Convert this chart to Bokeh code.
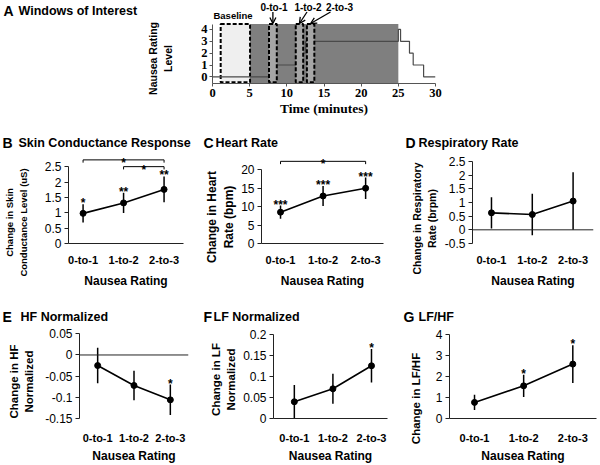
import math
from bokeh.plotting import figure
from bokeh.models import (Range1d, FixedTicker, Span, Arrow, OpenHead, ColumnDataSource,
                          LinearAxis)
from bokeh.layouts import column, row
from bokeh.embed import file_html
from bokeh.resources import INLINE
from bokeh.core.properties import value

# ---------------- data ----------------
categories = ["0-to-1", "1-to-2", "2-to-3"]

# Panel A: windows of interest
rating_time = [0, 8.1, 11.7, 12.5, 25.0, 25.3, 26.5, 27.0, 28.4, 30]
rating_level = [0, 1, 2, 3, 4, 3, 2, 1, 0, 0]
exposure_window = (5, 25)
baseline_window = (1.1, 5.05)
window_names = ["0-to-1", "1-to-2", "2-to-3"]
window_start = [7.6, 11.2, 12.7]
window_end = [8.65, 12.2, 13.7]
time_ticks = [0, 5, 10, 15, 20, 25, 30]
level_ticks = [0, 1, 2, 3, 4]

# Panel B: skin conductance response
scr_mean = [0.98, 1.32, 1.76]
scr_err = [0.30, 0.33, 0.42]
scr_stars = ["*", "**", "**"]
scr_pairs = [(0, 2, "*"), (1, 2, "*")]
scr_ticks = [0, 0.5, 1, 1.5, 2, 2.5]

# Panel C: heart rate
hr_mean = [8.5, 12.9, 15.0]
hr_err = [1.8, 2.7, 2.9]
hr_stars = ["***", "***", "***"]
hr_pairs = [(0, 2, "*")]
hr_ticks = [0, 5, 10, 15, 20]

# Panel D: respiratory rate
rr_mean = [0.62, 0.56, 1.05]
rr_err = [0.57, 0.76, 1.05]
rr_stars = ["", "", ""]
rr_ticks = [-0.5, 0, 0.5, 1, 1.5, 2, 2.5]

# Panel E: HF normalized
hf_mean = [-0.025, -0.072, -0.106]
hf_err = [0.042, 0.035, 0.036]
hf_stars = ["", "", "*"]
hf_ticks = [-0.15, -0.1, -0.05, 0, 0.05]

# Panel F: LF normalized
lf_mean = [0.040, 0.071, 0.126]
lf_err = [0.040, 0.036, 0.040]
lf_stars = ["", "", "*"]
lf_ticks = [0, 0.05, 0.1, 0.15, 0.2]

# Panel G: LF/HF
lfhf_mean = [0.77, 1.56, 2.60]
lfhf_err = [0.36, 0.53, 0.90]
lfhf_stars = ["", "*", "*"]
lfhf_ticks = [0, 1, 2, 3, 4]

# ---------------- styling helpers ----------------
SANS = "Liberation Sans"
SERIF = "Liberation Serif"
AX = "#222222"


def finish(p):
    p.grid.visible = False
    p.outline_line_color = None
    p.background_fill_color = "white"
    p.border_fill_color = "white"
    try:
        p.frame_align = False  # keep each figure's own frame, no cross-plot alignment
    except Exception:
        pass
    return p


def base_fig(ox, oy, W, H, fl, fr, ft, fb, xr, yr):
    p = figure(width=W, height=H, x_range=Range1d(*xr), y_range=Range1d(*yr),
               output_backend="svg", toolbar_location=None,
               min_border_left=fl - ox, min_border_right=ox + W - fr,
               min_border_top=ft - oy, min_border_bottom=oy + H - fb)
    finish(p)

    def dx(px):
        return xr[0] + (px - fl) / (fr - fl) * (xr[1] - xr[0])

    def dy(py):
        return yr[0] + (fb - py) / (fb - ft) * (yr[1] - yr[0])

    return p, dx, dy


def put_text(p, x, y, txt, size, align="left"):
    p.text(x=[x], y=[y], text=[txt], text_align=align,
           text_baseline="middle", text_font=value(SANS), text_font_size=size,
           text_font_style="bold", text_color="black")


def text_fig(ox, oy, W, H, items):
    """Figure without axes whose frame is the whole canvas, holding horizontal texts.
    items: (page_x, page_y, text, size)"""
    p = figure(width=W, height=H, x_range=Range1d(0, W), y_range=Range1d(0, H),
               output_backend="svg", toolbar_location=None,
               x_axis_location=None, y_axis_location=None,
               min_border_left=0, min_border_right=0, min_border_top=0, min_border_bottom=0)
    finish(p)
    for px, py, txt, size in items:
        put_text(p, px - ox, H - (py - oy), txt, size)
    return p


def ytitle_fig(ox, oy, W, H, lines, size, frame_left, center_py):
    """Y-axis title column: one tickless axis per title line, the last line nearest."""
    d = 2 * (center_py - oy) - H
    top, bottom = (d, 0) if d >= 0 else (0, -d)
    p = figure(width=W, height=H, x_range=Range1d(0, 1), y_range=Range1d(0, 1),
               output_backend="svg", toolbar_location=None,
               x_axis_location=None, y_axis_location=None,
               min_border_left=frame_left - ox, min_border_right=0,
               min_border_top=int(round(top)), min_border_bottom=int(round(bottom)))
    finish(p)
    for line in reversed(lines):
        ax = LinearAxis(ticker=FixedTicker(ticks=[]), axis_label=line,
                        axis_line_color=None, major_tick_line_color=None,
                        minor_tick_line_color=None, major_tick_out=0, major_tick_in=0,
                        minor_tick_out=0, minor_tick_in=0, major_label_standoff=0,
                        axis_label_standoff=0, axis_label_text_font=SANS,
                        axis_label_text_font_style="bold", axis_label_text_font_size=size,
                        axis_label_text_color="black")
        p.add_layout(ax, "left")
    return p


def cat_panel(ox, oy, W, H, split, fl, fr, ft, fb, xr, yr, ticks, mean, err, stars,
              letter, title, title_cy, letter_px, title_px,
              ylines, ytitle_left, ytitle_cy, ytitle_size, xtick_standoff, xlabel_standoff,
              zero_line=False, pairs=(), pair_heights=(), pair_tick=0.0):
    strip = text_fig(ox, oy, W, ft - oy, [
        (letter_px, title_cy, letter, "14px"),
        (title_px, title_cy, title, "12.5px"),
    ])
    yfig = ytitle_fig(ox, ft, split - ox, oy + H - ft, ylines, ytitle_size,
                      ytitle_left, ytitle_cy)

    p, dx, dy = base_fig(split, ft, ox + W - split, oy + H - ft, fl, fr, ft, fb, xr, yr)
    xs = [1, 2, 3]
    lo = [m - e for m, e in zip(mean, err)]
    hi = [m + e for m, e in zip(mean, err)]
    src = ColumnDataSource(dict(x=xs, m=mean, lo=lo, hi=hi, star=stars))

    if zero_line:
        p.add_layout(Span(location=0, dimension="width", line_color=AX, line_width=1))

    p.segment(x0="x", y0="lo", x1="x", y1="hi", source=src,
              line_color="black", line_width=1.5)
    p.line(x="x", y="m", source=src, line_color="black", line_width=1.6)
    p.scatter(x="x", y="m", source=src, size=6, fill_color="black", line_color="black")
    p.text(x="x", y="hi", text="star", source=src, text_align="center",
           text_baseline="alphabetic", text_font=value(SANS), text_font_size="12px",
           text_font_style="bold", text_color="black", y_offset=-1)

    for (i, j, s), h in zip(pairs, pair_heights):
        p.line(x=[xs[i], xs[i], xs[j], xs[j]], y=[h - pair_tick, h, h, h - pair_tick],
               line_color="black", line_width=1)
        p.text(x=[(xs[i] + xs[j]) / 2], y=[h], text=[s], text_align="center",
               text_baseline="alphabetic", text_font=value(SANS), text_font_size="12px",
               text_font_style="bold", text_color="black", y_offset=3)

    ya = p.yaxis[0]
    ya.ticker = FixedTicker(ticks=ticks)
    ya.major_label_overrides = {t: f"{t:g}" for t in ticks}
    ya.bounds = (ticks[0], ticks[-1])
    ya.minor_tick_line_color = None
    ya.major_tick_out = 4
    ya.major_tick_in = 0
    ya.major_label_standoff = 3
    ya.axis_line_color = AX
    ya.major_tick_line_color = AX
    ya.major_label_text_font = SANS
    ya.major_label_text_font_size = "12px"
    ya.major_label_text_color = "black"

    xa = p.xaxis[0]
    xa.ticker = FixedTicker(ticks=xs)
    xa.major_label_overrides = {x: c for x, c in zip(xs, categories)}
    xa.major_tick_line_color = None
    xa.major_tick_out = 0
    xa.major_tick_in = 0
    xa.minor_tick_line_color = None
    xa.axis_line_color = None if zero_line else AX
    xa.major_label_standoff = xtick_standoff
    xa.major_label_text_font = SANS
    xa.major_label_text_font_style = "bold"
    xa.major_label_text_font_size = "11px"
    xa.major_label_text_color = "black"
    xa.axis_label = "Nausea Rating"
    xa.axis_label_text_font = SANS
    xa.axis_label_text_font_style = "bold"
    xa.axis_label_text_font_size = "12px"
    xa.axis_label_text_color = "black"
    xa.axis_label_standoff = xlabel_standoff

    return column(strip, row(yfig, p))


# ---------------- Panel A ----------------
leftA = text_fig(0, 0, 140, 120, [
    (3, 10, "A", "14px"),
    (18, 10, "Windows of Interest", "12.5px"),
])
yA = ytitle_fig(140, 0, 52, 120, ["Nausea Rating", "Level"], "10.5px", 173, 58)

pA, dxA, dyA = base_fig(192, 0, 408, 120, 212, 435, 0, 83, (0, 30), (-0.56, 6.44))
pA.quad(left=[exposure_window[0]], right=[exposure_window[1]], bottom=[-0.56], top=[4.45],
        fill_color="#7f7f7f", line_color=None)
pA.quad(left=[baseline_window[0]], right=[baseline_window[1]], bottom=[-0.45], top=[4.45],
        fill_color="#efefef", line_color="black", line_dash="4 2", line_width=2)
pA.step(x=rating_time, y=rating_level, mode="after", line_color="#4a4a4a", line_width=1.2)
pA.quad(left=window_start, right=window_end, bottom=-0.45, top=4.45,
        fill_color="#a6a6a6", line_color="black", line_dash="4 2", line_width=2)

win_label_px = [273.5, 307.5, 339.0]
arrow_start_px = [None, 306.5, 330.0]
for name, s, e, lx, ax0 in zip(window_names, window_start, window_end, win_label_px, arrow_start_px):
    put_text(pA, dxA(lx), dyA(6.5), name, "10px", align="center")
    cx = (s + e) / 2
    sx = cx if ax0 is None else dxA(ax0)
    pA.add_layout(Arrow(end=OpenHead(size=6, line_width=1.3, line_color="black"),
                        x_start=sx, y_start=dyA(11.5), x_end=cx, y_end=dyA(23),
                        line_width=1.3, line_color="black"))
put_text(pA, dxA(232.5), dyA(15), "Baseline", "9.5px", align="center")

xa = pA.xaxis[0]
xa.ticker = FixedTicker(ticks=time_ticks)
xa.axis_label = "Time (minutes)"
xa.axis_label_text_font = SERIF
xa.axis_label_text_font_style = "bold"
xa.axis_label_text_font_size = "13.5px"
xa.axis_label_text_color = "black"
xa.axis_label_standoff = 1
xa.major_label_text_font = SERIF
xa.major_label_text_font_style = "bold"
xa.major_label_text_font_size = "12.5px"
xa.major_label_text_color = "black"
xa.major_label_standoff = 2
xa.major_tick_out = 3
xa.major_tick_in = 0
xa.minor_tick_line_color = None
xa.axis_line_color = "#555555"
xa.major_tick_line_color = "#555555"

ya = pA.yaxis[0]
ya.ticker = FixedTicker(ticks=level_ticks)
ya.bounds = (-0.56, 4.45)
ya.major_label_text_font = SERIF
ya.major_label_text_font_style = "bold"
ya.major_label_text_font_size = "12.5px"
ya.major_label_text_color = "black"
ya.major_label_standoff = 2
ya.major_tick_out = 3
ya.major_tick_in = 0
ya.minor_tick_line_color = None
ya.axis_line_color = "#555555"
ya.major_tick_line_color = "#555555"

rowA = row(leftA, yA, pA)

# ---------------- Row 2 ----------------
R2 = dict(oy=120, H=170, ft=152, fb=250, title_cy=142, xtick_standoff=10, xlabel_standoff=5)
pB = cat_panel(ox=0, W=200, split=41, fl=67, fr=183, xr=(0.64, 3.48), yr=(0, 2.96),
               ticks=scr_ticks, mean=scr_mean, err=scr_err, stars=scr_stars,
               letter="B", title="Skin Conductance Response", letter_px=2, title_px=18,
               ylines=["Change in Skin", "Conductance Level (uS)"], ytitle_left=28,
               ytitle_cy=222, ytitle_size="9.5px",
               pairs=scr_pairs, pair_heights=[2.72, 2.50], pair_tick=0.09, **R2)
pC = cat_panel(ox=200, W=200, split=238, fl=261, fr=383, xr=(0.553, 3.42), yr=(0, 24.7),
               ticks=hr_ticks, mean=hr_mean, err=hr_err, stars=hr_stars,
               letter="C", title="Heart Rate", letter_px=203, title_px=215,
               ylines=["Change in Heart", "Rate (bpm)"], ytitle_left=235,
               ytitle_cy=216.5, ytitle_size="12px",
               pairs=hr_pairs, pair_heights=[22.3], pair_tick=0.76, **R2)
pD = cat_panel(ox=400, W=200, split=440, fl=472, fr=593, xr=(0.535, 3.5), yr=(-0.5, 2.825),
               ticks=rr_ticks, mean=rr_mean, err=rr_err, stars=rr_stars,
               letter="D", title="Respiratory Rate", letter_px=405, title_px=418,
               ylines=["Change in Respiratory", "Rate (brpm)"], ytitle_left=437,
               ytitle_cy=218, ytitle_size="10.5px", zero_line=True, **R2)

# ---------------- Row 3 ----------------
R3 = dict(oy=290, H=175, ft=328, fb=423, title_cy=316, xtick_standoff=13, xlabel_standoff=2)
pE = cat_panel(ox=0, W=200, split=42, fl=76, fr=188, xr=(0.5, 3.5), yr=(-0.15, 0.0625),
               ticks=hf_ticks, mean=hf_mean, err=hf_err, stars=hf_stars,
               letter="E", title="HF Normalized", letter_px=2, title_px=20,
               ylines=["Change in HF", "Normalized"], ytitle_left=34,
               ytitle_cy=381, ytitle_size="11.5px", zero_line=True, **R3)
pF = cat_panel(ox=200, W=200, split=238, fl=273, fr=387, xr=(0.46, 3.415), yr=(0, 0.2152),
               ticks=lf_ticks, mean=lf_mean, err=lf_err, stars=lf_stars,
               letter="F", title="LF Normalized", letter_px=203, title_px=213,
               ylines=["Change in LF", "Normalized"], ytitle_left=236,
               ytitle_cy=379, ytitle_size="11.5px", **R3)
pG = cat_panel(ox=400, W=200, split=430, fl=449, fr=596, xr=(0.491, 3.482), yr=(0, 4.30),
               ticks=lfhf_ticks, mean=lfhf_mean, err=lfhf_err, stars=lfhf_stars,
               letter="G", title="LF/HF", letter_px=403, title_px=418,
               ylines=["Change in LF/HF"], ytitle_left=421,
               ytitle_cy=398, ytitle_size="11.5px", **R3)

layout = column(rowA, row(pB, pC, pD), row(pE, pF, pG))
open("out.html", "w").write(file_html(layout, INLINE))
